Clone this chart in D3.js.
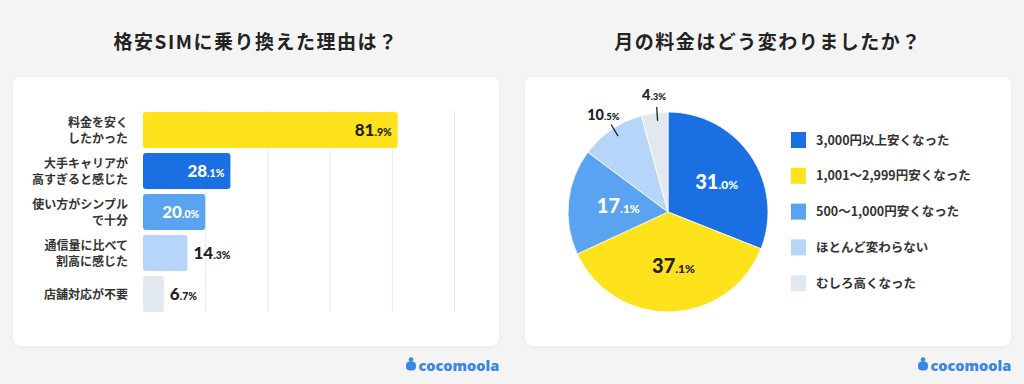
<!DOCTYPE html>
<html>
<head>
<meta charset="utf-8">
<script src="https://cdn.jsdelivr.net/npm/d3@7"></script>
<style>
  html, body { margin: 0; padding: 0; background: #f4f4f4; }
  svg { display: block; font-family: "Noto Sans CJK JP", "Noto Sans", sans-serif; }
</style>
</head>
<body>
<div id="frame"></div>
<script>
// data
let reasons = ['料金を安く\nしたかった', '大手キャリアが\n高すぎると感じた', '使い方がシンプル\nで十分', '通信量に比べて\n割高に感じた', '店舗対応が不要'];
let reasonValues = [81.9, 28.1, 20.0, 14.3, 6.7];
let gridTicks = [20, 40, 60, 80, 100];

let changes = ['3,000円以上安くなった', '1,001～2,999円安くなった', '500～1,000円安くなった', 'ほとんど変わらない', 'むしろ高くなった'];
let changeValues = [31.0, 37.1, 17.1, 10.5, 4.3];

let titles = ['格安SIMに乗り換えた理由は？', '月の料金はどう変わりましたか？'];
let brand = 'cocomoola';

let barColors = ['#fde21c', '#1a6fe3', '#5aa3f0', '#b7d5f8', '#e2e8f0'];
let pieColors = ['#1a6fe3', '#fde21c', '#5aa3f0', '#b7d5f8', '#e2e8f0'];
let labelFill = ['#222', '#fff', '#fff', '#222', '#222'];

let W = 1024, H = 384;

let svg = d3.select('#frame')
    .append('svg')
    .attr('width', W)
    .attr('height', H);

let defs = svg.append('defs');
let shadow = defs.append('filter').attr('id', 'shadow')
    .attr('x', '-5%').attr('y', '-5%').attr('width', '110%').attr('height', '110%');
shadow.append('feDropShadow')
    .attr('dx', 0).attr('dy', 1).attr('stdDeviation', 2)
    .attr('flood-color', '#000').attr('flood-opacity', 0.05);

svg.append('rect').attr('width', W).attr('height', H).attr('fill', '#f4f4f4');

//cards
let cards = [{ x: 13, title: titles[0] }, { x: 525, title: titles[1] }];
cards.forEach(c => {
    svg.append('rect')
        .attr('x', c.x).attr('y', 77)
        .attr('width', 486).attr('height', 269)
        .attr('rx', 8)
        .attr('fill', '#fff')
        .attr('filter', 'url(#shadow)');
    svg.append('text')
        .attr('x', c.x + 243).attr('y', 49)
        .attr('text-anchor', 'middle')
        .style('font-size', '19px')
        .style('font-weight', 700)
        .style('letter-spacing', '1.5px')
        .attr('fill', '#222')
        .text(c.title);
    //logo
    let lg = svg.append('g').attr('transform', 'translate(' + (c.x + 393) + ',366)');
    lg.append('circle').attr('cx', 5).attr('cy', -6.5).attr('r', 2.3).attr('fill', '#3a86e6');
    lg.append('rect').attr('x', 0).attr('y', -4.5).attr('width', 10).attr('height', 9).attr('rx', 4).attr('fill', '#3a86e6');
    lg.append('text')
        .attr('x', 12.5).attr('y', 4.5)
        .style('font-family', '"Open Sans", sans-serif')
        .style('font-size', '14.5px')
        .style('font-weight', 800)
        .attr('fill', '#3a86e6')
        .text(brand);
});

//---------- bar chart ----------
let x = d3.scaleLinear().domain([0, 100]).range([143, 454]);
let y = d3.scaleBand().domain(reasons).range([109.5, 314.5]).paddingInner(0.122).paddingOuter(0.061);

let grid = svg.append('g')
    .attr('transform', 'translate(0,' + y.range()[1] + ')')
    .call(d3.axisBottom(x).tickValues(gridTicks).tickSize(-(y.range()[1] - y.range()[0] - 3)).tickFormat(''));
grid.select('.domain').remove();
grid.selectAll('line').attr('stroke', '#ebebeb').attr('transform', 'translate(0,-2.5)');

svg.selectAll('rect.bar')
    .data(reasonValues)
    .enter()
    .append('rect')
    .attr('class', 'bar')
    .attr('x', x(0))
    .attr('y', (d, i) => y(reasons[i]))
    .attr('width', d => x(d) - x(0))
    .attr('height', y.bandwidth())
    .attr('rx', 3)
    .attr('fill', (d, i) => barColors[i]);

//category labels
reasons.forEach((r, i) => {
    let lines = r.split('\n');
    let cy = y(r) + y.bandwidth() / 2;
    let t = svg.append('text')
        .attr('text-anchor', 'end')
        .style('font-size', '12px')
        .style('font-weight', 700)
        .attr('fill', '#333');
    lines.forEach((l, j) => {
        t.append('tspan')
            .attr('x', 128)
            .attr('y', cy + 4.5 + (j - (lines.length - 1) / 2) * 16)
            .text(l);
    });
});

//value labels: big integer part, small decimals
function valueText(sel, v, big, small) {
    let s = v.toFixed(1).split('.');
    sel.append('tspan').style('font-size', big + 'px').text(s[0]);
    sel.append('tspan').style('font-size', small + 'px').text('.' + s[1] + '%');
}
reasonValues.forEach((v, i) => {
    let inside = v >= 20;
    let t = svg.append('text')
        .attr('x', inside ? x(v) - 6 : x(v) + 6)
        .attr('y', y(reasons[i]) + y.bandwidth() / 2 + 6)
        .attr('text-anchor', inside ? 'end' : 'start')
        .style('font-family', 'Lato, sans-serif')
        .style('font-weight', 900)
        .attr('fill', labelFill[i]);
    valueText(t, v, 17, 10.5);
});

//---------- pie chart ----------
let cx = 668, cy = 212, R = 100;
let pie = d3.pie().sort(null).value(d => d);
let arc = d3.arc().innerRadius(0).outerRadius(R);
let labelArc = d3.arc().innerRadius(R * 0.54).outerRadius(R * 0.54);
let arcs = pie(changeValues);

let pg = svg.append('g').attr('transform', 'translate(' + cx + ',' + cy + ')');
pg.selectAll('path')
    .data(arcs)
    .enter()
    .append('path')
    .attr('d', arc)
    .attr('fill', (d, i) => pieColors[i])
    .attr('stroke', '#fff')
    .attr('stroke-width', 0.8);

let pieLabelFill = ['#fff', '#222', '#fff'];
arcs.forEach((a, i) => {
    let t;
    if (a.data >= 15) {
        let c = labelArc.centroid(a);
        t = pg.append('text')
            .attr('x', c[0] + 4).attr('y', c[1] + 7)
            .attr('text-anchor', 'middle')
            .attr('fill', pieLabelFill[i])
            .style('font-family', 'Lato, sans-serif').style('font-weight', 900);
        valueText(t, a.data, 20, 12);
    } else {
        //outside label with leader line
        let mid = (a.startAngle + a.endAngle) / 2;
        let sx = Math.sin(mid), sy = -Math.cos(mid);
        pg.append('line')
            .attr('x1', sx * R * 0.92 + 2).attr('y1', sy * R * 0.92)
            .attr('x2', sx * R * 1.06 + 3).attr('y2', sy * R * 1.06)
            .attr('stroke', '#222').attr('stroke-width', 1.3);
        t = pg.append('text')
            .attr('x', sx * R * 1.18 + 2).attr('y', sy * R * 1.18 + 5)
            .attr('text-anchor', 'middle')
            .attr('fill', '#222')
            .style('font-family', 'Lato, sans-serif').style('font-weight', 900);
        valueText(t, a.data, 14.5, 9.5);
    }
});

//legend
let legend = svg.append('g').attr('transform', 'translate(791,132)');
changes.forEach((c, i) => {
    let g = legend.append('g').attr('transform', 'translate(0,' + i * 35.8 + ')');
    g.append('rect').attr('width', 15).attr('height', 16).attr('fill', pieColors[i]);
    g.append('text')
        .attr('x', 25).attr('y', 12.5)
        .style('font-size', '12.5px')
        .style('font-weight', 700)
        .attr('fill', '#333')
        .text(c);
});
</script>
</body>
</html>
